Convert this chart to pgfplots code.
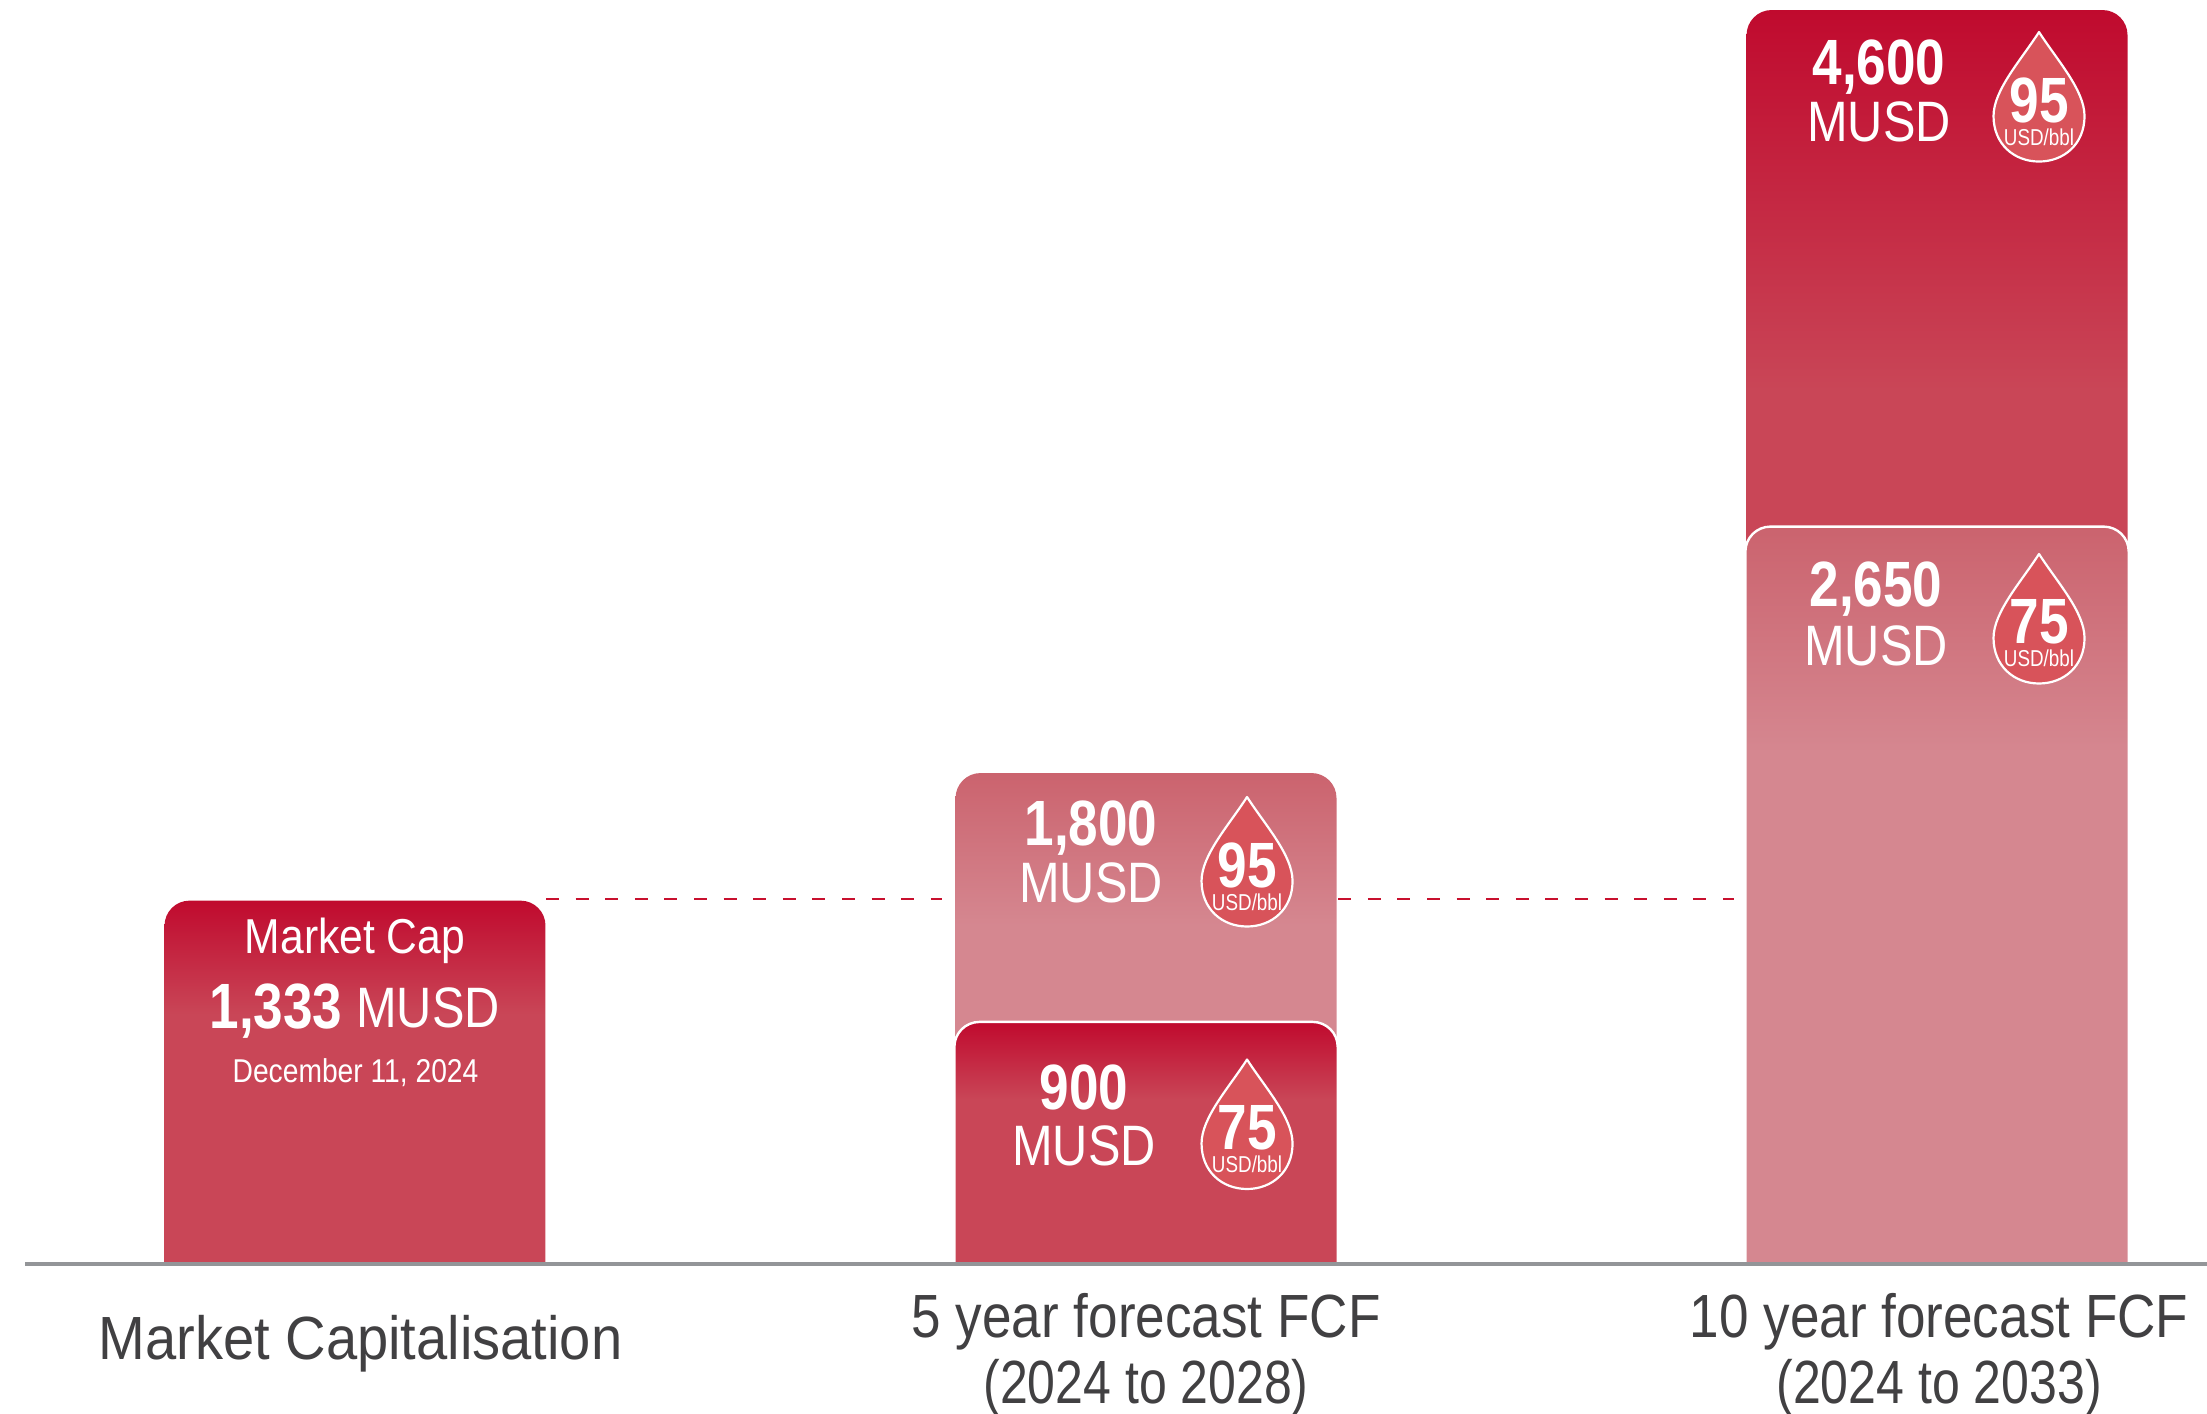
\documentclass[border=0pt]{standalone}
\usepackage{pgfplots}
\usepackage{fontspec}
\pgfplotsset{compat=1.18}
\setmainfont{Liberation Sans}
\newfontfamily\regN[FakeStretch=0.82]{Liberation Sans}
\newfontfamily\regU[FakeStretch=0.855]{Liberation Sans}
\newfontfamily\regM[FakeStretch=0.87]{Liberation Sans}
\newfontfamily\regW[FakeStretch=0.92]{Liberation Sans}
\newfontfamily\boldN[FakeStretch=0.83]{Liberation Sans Bold}
\definecolor{dk}{HTML}{C94657}
\definecolor{dktop}{HTML}{C00A2E}
\definecolor{lt}{HTML}{D58790}
\definecolor{lttop}{HTML}{CB636E}
\definecolor{dropc}{HTML}{D8535A}
\definecolor{axisc}{HTML}{939598}
\definecolor{txtc}{HTML}{414042}
\definecolor{dashc}{HTML}{C8102E}
\pgfdeclareverticalshading{darkbar}{100bp}{color(0bp)=(dk);color(25bp)=(dk);color(60bp)=(dk);color(75bp)=(dktop);color(100bp)=(dktop)}
\pgfdeclareverticalshading{lightbar}{100bp}{color(0bp)=(lt);color(25bp)=(lt);color(60bp)=(lt);color(75bp)=(lttop);color(100bp)=(lttop)}
\newcommand{\fs}[1]{\fontsize{#1pt}{#1pt}\selectfont}
% text: x px, baseline px, font, text
\newcommand{\lab}[3]{\node[anchor=base,white,inner sep=0pt] at (axis cs:{(#1-355)/791},{(1264-#2)/0.2726}) {#3};}
% drop: tip x px, tip y px, number
\newcommand{\drop}[3]{%
  \begin{scope}[shift={(axis cs:{(#1-355)/791},{(1264-#2)/0.2726})}]
    \path[fill=dropc,draw=white,line width=2.2pt,line join=round]
      (0pt,0pt) .. controls (18pt,-28pt) and (45.5pt,-58pt) .. (45.5pt,-84pt)
      .. controls (45.5pt,-112pt) and (25pt,-129.5pt) .. (0pt,-129.5pt)
      .. controls (-25pt,-129.5pt) and (-45.5pt,-112pt) .. (-45.5pt,-84pt)
      .. controls (-45.5pt,-58pt) and (-18pt,-28pt) .. (0pt,0pt) -- cycle;
    \node[anchor=base,white,inner sep=0pt] at (0pt,-90pt) {\boldN\fs{64}#3};
    \node[anchor=base,white,inner sep=0pt] at (0pt,-113pt) {\regN\fs{23}USD/bbl};
  \end{scope}}
\begin{document}
\begin{tikzpicture}
\path[use as bounding box] (-25pt,-149pt) rectangle (2182pt,1264pt);
\begin{axis}[
  scale only axis, width=2182pt, height=1264pt,
  anchor=south west, at={(0pt,0pt)},
  xmin=-0.4172, xmax=2.3413, ymin=0, ymax=4637,
  axis x line=bottom, axis y line=none,
  axis line style={-,draw=axisc,line width=3.2pt},
  axis on top,
  xtick={0,1,2},
  xticklabels={{\hspace{11pt}\rule{0pt}{95pt}\regW Market Capitalisation},
    {\rule{0pt}{73pt}5 year forecast FCF\\\regN(2024 to 2028)},
    {\hspace{4pt}\rule{0pt}{73pt}10 year forecast FCF\\\hspace{4pt}\regN(2024 to 2033)}},
  xticklabel style={anchor=north,align=center,inner sep=0pt,text=txtc,
    font=\regM\fontsize{61pt}{66pt}\selectfont},
  xtick style={draw=none},
  major tick length=0pt,
  no marks,
]
% Market capitalisation
\addplot[shading=darkbar,draw=none,rounded corners=25pt] coordinates
  {(-0.2408,-60)(-0.2408,1333)(0.2408,1333)(0.2408,-60)};
% 5 year: 95 USD/bbl behind, 75 USD/bbl in front
\addplot[shading=lightbar,draw=none,rounded corners=25pt] coordinates
  {(0.7592,-60)(0.7592,1801)(1.2408,1801)(1.2408,-60)};
\addplot[shading=darkbar,draw=white,line width=2.4pt,rounded corners=25pt] coordinates
  {(0.7577,-60)(0.7577,888)(1.2423,888)(1.2423,-60)};
% 10 year: 95 USD/bbl behind, 75 USD/bbl in front
\addplot[shading=darkbar,draw=none,rounded corners=25pt] coordinates
  {(1.7592,-60)(1.7592,4600)(2.2408,4600)(2.2408,-60)};
\addplot[shading=lightbar,draw=white,line width=2.4pt,rounded corners=25pt] coordinates
  {(1.7577,-60)(1.7577,2705)(2.2423,2705)(2.2423,-60)};
% reference level of the market cap
\addplot[dashc,line width=2.4pt,dash pattern=on 13pt off 16.6pt] coordinates {(0.2415,1340)(0.7420,1340)};
\addplot[dashc,line width=2.4pt,dash pattern=on 13pt off 16.6pt] coordinates {(1.2430,1340)(1.7430,1340)};
% labels
\lab{355}{953}{\regM\fs{49}Market Cap}
\lab{276}{1028}{\boldN\fs{64}1,333}
\lab{428}{1027}{\regU\fs{57}MUSD}
\lab{355.5}{1082}{\regU\fs{33}December 11, 2024}
\lab{1091}{846}{\boldN\fs{64}1,800}
\lab{1091}{902}{\regU\fs{57}MUSD}
\lab{1084}{1109}{\boldN\fs{64}900}
\lab{1084}{1165}{\regU\fs{57}MUSD}
\lab{1879}{85}{\boldN\fs{64}4,600}
\lab{1879}{142}{\regU\fs{57}MUSD}
\lab{1876}{607}{\boldN\fs{64}2,650}
\lab{1876}{666}{\regU\fs{57}MUSD}
\drop{2039}{32}{95}
\drop{2039}{554}{75}
\drop{1247}{797}{95}
\drop{1247}{1059.5}{75}
\end{axis}
\end{tikzpicture}
\end{document}
